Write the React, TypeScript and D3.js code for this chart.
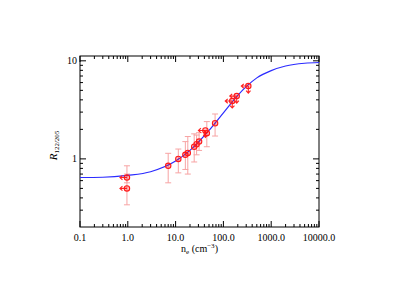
import React, { useEffect, useRef } from 'react';
import * as d3 from 'd3';

// model curve (n_e in cm^-3, ratio)
const curveN = [0.1, 0.3, 1, 3, 10, 20, 50, 100, 200, 300, 500, 1000, 2000, 5000, 10000];
const curveR = [0.646, 0.65, 0.68, 0.74, 0.95, 1.22, 1.95, 2.95, 4.45, 5.45, 6.7, 7.95, 8.85, 9.45, 9.62];

// measured points
const pointN = [0.96, 0.96, 7.0, 11.4, 16, 18, 24.5, 27.5, 31, 42, 45, 67, 153, 190, 332];
const pointR = [0.645, 0.5, 0.85, 1.0, 1.1, 1.15, 1.33, 1.41, 1.5, 1.95, 1.83, 2.31, 3.89, 4.37, 5.53];
const errLo = [0.57, 0.34, 0.57, 0.72, 0.78, 0.7, 0.93, 1.1, 1.22, 1.95, 1.33, 1.71, 3.89, 4.37, 5.53];
const errHi = [0.85, 0.7, 1.14, 1.26, 1.5, 1.69, 1.8, 1.75, 1.85, 1.95, 2.4, 2.87, 3.89, 4.37, 5.53];
const limitN = [true, true, false, false, false, false, false, false, false, true, false, false, true, true, true];
const limitR = [false, false, false, false, false, false, false, false, false, true, false, false, true, true, true];

const xTicks = [0.1, 1, 10, 100, 1000, 10000];
const xTickLabels = ['0.1', '1.0', '10.0', '100.0', '1000.0', '10000.0'];
const yTicks = [1, 10];
const yTickLabels = ['1', '10'];

const W = 399;
const H = 285;
const m = { left: 80, right: 80, top: 56, bottom: 58 };

const App = () => {
  const ref = useRef<SVGSVGElement>(null);

  useEffect(() => {
    const svg = d3.select(ref.current);
    svg.selectAll('*').remove();

    const x = d3.scaleLog().domain([0.1, 10000]).range([m.left, W - m.right]);
    const y = d3.scaleLog().domain([0.202, 11.2]).range([H - m.bottom, m.top]);
    const font = "'Liberation Serif', 'DejaVu Serif', serif";

    svg.append('rect').attr('width', W).attr('height', H).attr('fill', '#fff');

    // minor ticks
    const xMinor: number[] = [];
    for (let e = -1; e < 4; e++) for (let k = 2; k < 10; k++) xMinor.push(k * Math.pow(10, e));
    const yMinor: number[] = [];
    for (let e = -1; e < 2; e++) for (let k = 2; k < 10; k++) {
      const v = k * Math.pow(10, e);
      if (v >= 0.202 && v <= 11.2) yMinor.push(v);
    }

    const x0 = m.left, x1 = W - m.right, y0 = H - m.bottom, y1 = m.top;
    const g = svg.append('g').attr('stroke', '#000').attr('stroke-width', 1);
    const tick = (ax: number, ay: number, bx: number, by: number) =>
      g.append('line').attr('x1', ax).attr('y1', ay).attr('x2', bx).attr('y2', by);

    xTicks.forEach(v => { tick(x(v), y0, x(v), y0 - 6); tick(x(v), y1, x(v), y1 + 6); });
    xMinor.forEach(v => { tick(x(v), y0, x(v), y0 - 3); tick(x(v), y1, x(v), y1 + 3); });
    yTicks.forEach(v => { tick(x0, y(v), x0 + 6, y(v)); tick(x1, y(v), x1 - 6, y(v)); });
    yMinor.forEach(v => { tick(x0, y(v), x0 + 3, y(v)); tick(x1, y(v), x1 - 3, y(v)); });

    svg.append('rect')
      .attr('x', x0).attr('y', y1).attr('width', x1 - x0).attr('height', y0 - y1)
      .attr('fill', 'none').attr('stroke', '#000').attr('stroke-width', 1);

    // tick labels
    svg.append('g').selectAll('text').data(xTicks).enter().append('text')
      .attr('x', d => x(d)).attr('y', y0 + 14)
      .attr('text-anchor', 'middle')
      .style('font-family', font).style('font-size', '10px')
      .text((d, i) => xTickLabels[i]);

    svg.append('g').selectAll('text').data(yTicks).enter().append('text')
      .attr('x', x0 - 3).attr('y', d => y(d) + 3.5)
      .attr('text-anchor', 'end')
      .style('font-family', font).style('font-size', '10px')
      .text((d, i) => yTickLabels[i]);

    // axis titles
    const xt = svg.append('text')
      .attr('x', (x0 + x1) / 2).attr('y', y0 + 25)
      .attr('text-anchor', 'middle')
      .style('font-family', font).style('font-size', '10px');
    xt.append('tspan').text('n');
    xt.append('tspan').attr('dy', 2).style('font-size', '7px').text('e');
    xt.append('tspan').attr('dy', -2).text(' (cm');
    xt.append('tspan').attr('dy', -4).style('font-size', '7px').text('−3');
    xt.append('tspan').attr('dy', 4).text(')');

    const yt = svg.append('text')
      .attr('transform', `translate(57, ${(y0 + y1) / 2 + 4}) rotate(-90)`)
      .attr('text-anchor', 'middle')
      .style('font-family', font).style('font-size', '11px');
    yt.append('tspan').style('font-style', 'italic').text('R');
    yt.append('tspan').attr('dy', 2).style('font-size', '7px').text('122/205');

    // error bars
    const eb = svg.append('g').attr('stroke', '#f7a3a3').attr('stroke-width', 1);
    pointN.forEach((n, i) => {
      if (errLo[i] === errHi[i]) return;
      const px = x(n);
      eb.append('line').attr('x1', px).attr('x2', px).attr('y1', y(errLo[i])).attr('y2', y(errHi[i]));
      eb.append('line').attr('x1', px - 3).attr('x2', px + 3).attr('y1', y(errLo[i])).attr('y2', y(errLo[i]));
      eb.append('line').attr('x1', px - 3).attr('x2', px + 3).attr('y1', y(errHi[i])).attr('y2', y(errHi[i]));
    });

    // model curve
    const line = d3.line<number>()
      .x(d => x(d))
      .y((d, i) => y(curveR[i]))
      .curve(d3.curveMonotoneX);
    svg.append('path')
      .datum(curveN)
      .attr('fill', 'none')
      .attr('stroke', '#2b2bff')
      .attr('stroke-width', 1.2)
      .attr('d', line);

    // limits (arrows)
    const ar = svg.append('g').attr('stroke', '#ff2020').attr('fill', 'none').attr('stroke-width', 1.1);
    pointN.forEach((n, i) => {
      const px = x(n), py = y(pointR[i]);
      if (limitN[i]) {
        ar.append('path').attr('d', `M${px},${py}H${px - 7}M${px - 4.5},${py - 2.2}L${px - 7},${py}L${px - 4.5},${py + 2.2}`);
      }
      if (limitR[i]) {
        ar.append('path').attr('d', `M${px},${py}V${py + 7}M${px - 2.2},${py + 4.5}L${px},${py + 7}L${px + 2.2},${py + 4.5}`);
      }
    });

    // points
    svg.append('g').selectAll('circle').data(pointN).enter().append('circle')
      .attr('cx', d => x(d)).attr('cy', (d, i) => y(pointR[i]))
      .attr('r', 2.7)
      .attr('fill', 'rgba(255,0,0,0.25)')
      .attr('stroke', '#ff1a1a')
      .attr('stroke-width', 1.1);
  }, []);

  return (
    <div style={{ position: 'absolute', left: 0, top: 0 }}>
      <svg ref={ref} width={W} height={H} style={{ display: 'block' }}></svg>
    </div>
  );
};

export default App;
